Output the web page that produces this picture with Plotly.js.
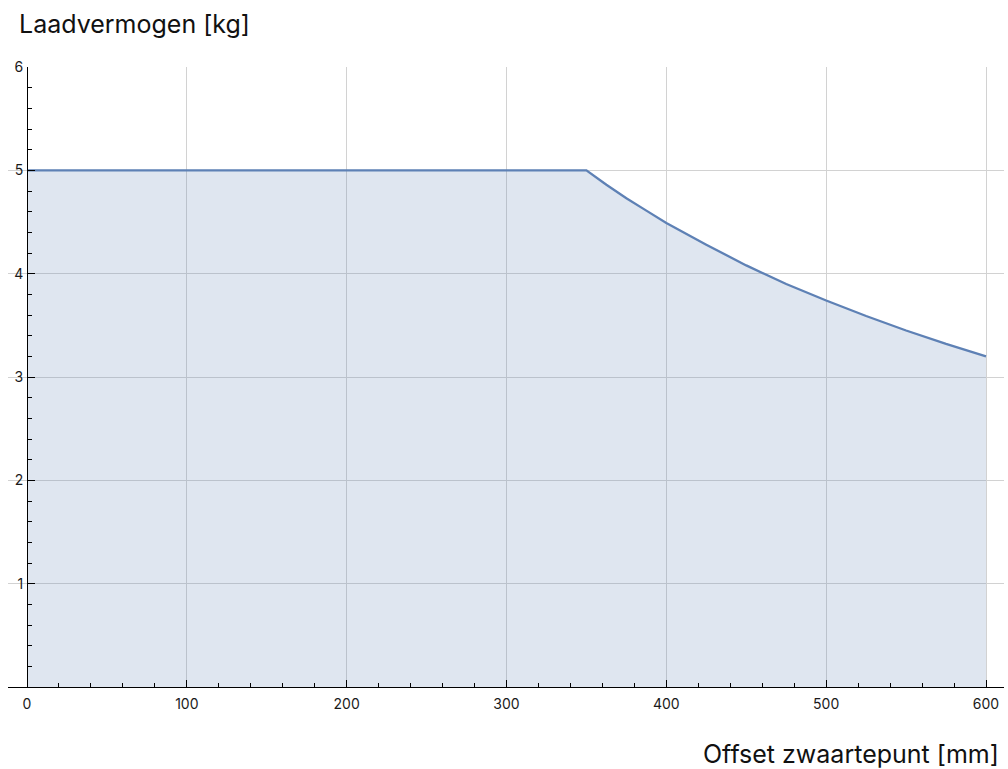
<!DOCTYPE html>
<html>
<head>
<meta charset="utf-8">
<script src="https://cdn.plot.ly/plotly-3.0.1.min.js"></script>
<style>html,body{margin:0;padding:0;background:#fff;}#chart{width:1008px;height:769px;}</style>
</head>
<body>
<div id="chart"></div>
<script>
// Data
const offsetMm = [0, 350, 362.5, 375, 387.5, 400, 425, 450, 475, 500, 525, 550, 575, 600];
const capacityKg = [5, 5, 4.86, 4.73, 4.61, 4.49, 4.28, 4.08, 3.90, 3.74, 3.59, 3.45, 3.32, 3.20];
const xTickVals = [0, 100, 200, 300, 400, 500, 600];
const yTickVals = [1, 2, 3, 4, 5, 6];
const yAxisLabel = "Laadvermogen [kg]";
const xAxisLabel = "Offset zwaartepunt [mm]";

const lineColor = "rgb(94,129,181)";
const fontFam = "Inter, 'Liberation Sans', Arial, sans-serif";

const xRange = [-11.89, 611.26];
const yAxisPos = (0 - xRange[0]) / (xRange[1] - xRange[0]);

const trace = {
  x: offsetMm,
  y: capacityKg,
  type: "scatter",
  mode: "lines",
  line: {color: lineColor, width: 2.3, shape: "linear"},
  fill: "tozeroy",
  fillcolor: "rgba(94,129,181,0.2)",
  hoverinfo: "x+y"
};

const layout = {
  width: 1008,
  height: 769,
  margin: {l: 8, r: 4, t: 67, b: 82, pad: 0},
  paper_bgcolor: "#fff",
  plot_bgcolor: "#fff",
  showlegend: false,
  font: {family: fontFam, size: 14, color: "#222"},
  xaxis: {
    range: xRange,
    tickvals: xTickVals,
    ticktext: xTickVals.map(String),
    ticks: "inside",
    ticklen: 7,
    tickwidth: 1,
    tickcolor: "#000",
    showline: true,
    linecolor: "#000",
    linewidth: 1,
    showgrid: true,
    gridcolor: "#d2d2d2",
    gridwidth: 1,
    zeroline: false,
    ticklabelstandoff: 4,
    tickfont: {family: fontFam, size: 14, color: "#1a1a1a"},
    minor: {dtick: 20, ticks: "inside", ticklen: 4, tickcolor: "#000", showgrid: false}
  },
  yaxis: {
    range: [0, 6],
    anchor: "free",
    position: yAxisPos,
    tickvals: yTickVals,
    ticktext: yTickVals.map(String),
    ticks: "inside",
    ticklen: 7,
    tickwidth: 1,
    tickcolor: "#000",
    showline: true,
    linecolor: "#000",
    linewidth: 1,
    showgrid: true,
    gridcolor: "#d2d2d2",
    gridwidth: 1,
    zeroline: false,
    ticklabelstandoff: 1,
    tickfont: {family: fontFam, size: 14, color: "#1a1a1a"},
    minor: {dtick: 0.2, ticks: "inside", ticklen: 4, tickcolor: "#000", showgrid: false}
  },
  annotations: [
    {
      text: yAxisLabel,
      xref: "paper", yref: "paper",
      x: (17 - 8) / 996, y: (687 - 24) / 620,
      xanchor: "left", yanchor: "middle",
      showarrow: false,
      font: {family: fontFam, size: 25, color: "#111"}
    },
    {
      text: xAxisLabel,
      xref: "paper", yref: "paper",
      x: (1001 - 8) / 996, y: (687 - 754) / 620,
      xanchor: "right", yanchor: "middle",
      showarrow: false,
      font: {family: fontFam, size: 25, color: "#111"}
    }
  ]
};

Plotly.newPlot("chart", [trace], layout, {displayModeBar: false, staticPlot: true});
</script>
</body>
</html>
